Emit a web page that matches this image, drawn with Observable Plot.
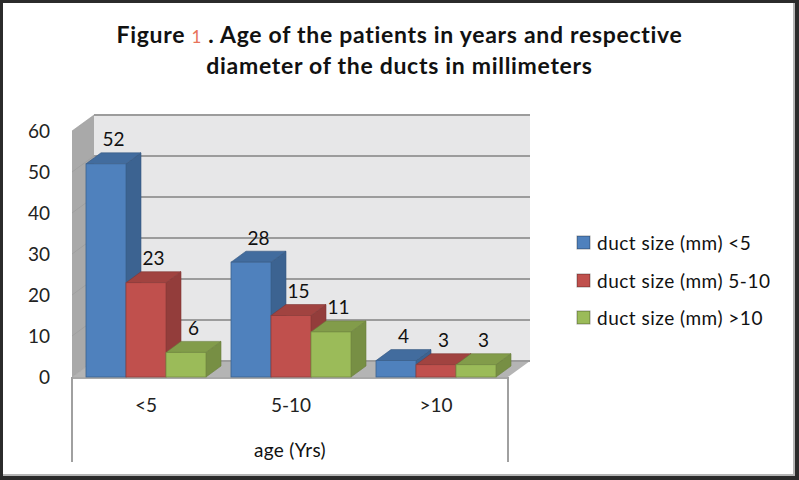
<!DOCTYPE html>
<html>
<head>
<meta charset="utf-8">
<script src="https://cdn.jsdelivr.net/npm/d3@7"></script>
<script src="https://cdn.jsdelivr.net/npm/@observablehq/plot@0.6"></script>
<style>
  html, body { margin: 0; padding: 0; background: #fff; }
  #wrap { position: relative; width: 799px; height: 480px; overflow: hidden; background: #fff; }
  #chart { position: absolute; left: 0; top: 0; }
  #title { position: absolute; left: 0; top: 20px; width: 799px; text-align: center;
           font: bold 23px/29px Lato, "Open Sans", sans-serif; letter-spacing: 0.7px; color: #111; }
  #title .num { color: #E8735A; font-weight: normal; font-size: 17px; }
  #axtitle { position: absolute; left: 190px; top: 439px; width: 200px; text-align: center;
             font: 19px/22px Lato, sans-serif; letter-spacing: 0.3px; color: #111; }
  #legend { position: absolute; left: 577px; top: 224px; width: 220px; }
  .lg-swatches { font-family: Lato, sans-serif !important; font-size: 19px !important; letter-spacing: 0.5px; color: #111 !important; min-height: 0 !important; margin: 0 !important; }
  .lg-swatch { height: 37.5px; padding: 0 !important; display: flex; align-items: center; }
  .lg-swatch svg { margin-right: 7px !important; }
  .lg-swatch svg rect { stroke: rgba(0,0,0,0.35); stroke-width: 1px; }
  #frame { position: absolute; left: 0; top: 0; width: 799px; height: 480px; box-sizing: border-box;
           border: 3px solid #2b2b2b; border-right-width: 4px; border-bottom-width: 4px;
           box-shadow: inset -2px -2px 0 #b5b5b5; pointer-events: none; }
</style>
</head>
<body>
<div id="wrap">
  <div id="chart"></div>
  <div id="title">Figure <span class="num">1</span> . Age of the patients in years and respective<br>diameter of the ducts in millimeters</div>
  <div id="axtitle"></div>
  <div id="legend"></div>
  <div id="frame"></div>
</div>
<script>
// ---- data ----
const categories = ["<5", "5-10", ">10"];
const series = ["duct size (mm) <5", "duct size (mm) 5-10", "duct size (mm) >10"];
const ductLt5 = [52, 28, 4];
const duct5to10 = [23, 15, 3];
const ductGt10 = [6, 11, 3];
const yTicks = [0, 10, 20, 30, 40, 50, 60];
const colors = ["#4F81BD", "#C0504D", "#9BBB59"];
const axisTitle = "age (Yrs)";

const seriesValues = [ductLt5, duct5to10, ductGt10];
const rows = categories.flatMap((c, i) =>
  seriesValues.map((arr, j) => ({age: c, series: series[j], value: arr[i]})));

document.getElementById("axtitle").textContent = axisTitle;

// ---- layout ----
const W = 799, H = 480;
const mL = 72, mR = 291, mT = 131, mB = 103;
const wallD = [22, -16];   // depth of walls
const barD = [15, -11];    // depth of bars

const plot = Plot.plot({
  width: W, height: H,
  marginLeft: mL, marginRight: mR, marginTop: mT, marginBottom: mB,
  style: {fontFamily: "Lato, 'Open Sans', sans-serif", fontSize: "19px", color: "#222", background: "transparent"},
  fx: {domain: categories, paddingInner: 0.168, paddingOuter: 0.084, axis: "bottom", tickSize: 0, tickPadding: 21, label: null},
  x: {domain: series, padding: 0, axis: null},
  y: {domain: [0, 60], ticks: yTicks, tickSize: 0, tickPadding: 22, label: null},
  color: {domain: series, range: colors},
  marks: [
    Plot.barY(rows, {fx: "age", x: "series", y: "value", fill: "series", inset: 0}),
    Plot.text(rows, {fx: "age", x: "series", y: "value", text: d => String(d.value), dy: -24, dx: 7, fontSize: 19, fill: "#111"})
  ]
});
document.getElementById("chart").append(plot);

// ---- 3D chrome drawn from the plot's own scales ----
const yS = plot.scale("y");
const Y0 = yS.apply(0), Ytop = yS.apply(60);
const L = mL, R = W - mR;
const svg = d3.select(plot);
const pts = a => a.map(p => p.join(",")).join(" ");

// push y tick labels left so they end ~22px from the wall
const box = plot.getBoundingClientRect();
svg.selectAll("g[aria-label^='y-axis']").each(function() {
  const texts = this.querySelectorAll("text");
  if (!texts.length) return;
  let maxRight = -Infinity;
  texts.forEach(t => { maxRight = Math.max(maxRight, t.getBoundingClientRect().right - box.left); });
  const shift = (L - 22) - maxRight;
  const prev = this.getAttribute("transform") || "";
  this.setAttribute("transform", `translate(${shift},0) ${prev}`);
});

const walls = svg.insert("g", 'g[aria-label="bar"]');
walls.append("polygon").attr("points", pts([[L + wallD[0], Ytop + wallD[1]], [R + wallD[0], Ytop + wallD[1]], [R + wallD[0], Y0 + wallD[1]], [L + wallD[0], Y0 + wallD[1]]]))
  .attr("fill", "#E7E7E8");
walls.append("polygon").attr("points", pts([[L, Ytop], [L + wallD[0], Ytop + wallD[1]], [L + wallD[0], Y0 + wallD[1]], [L, Y0]]))
  .attr("fill", "#A9A9A9");
walls.append("polygon").attr("points", pts([[L, Y0], [L + wallD[0], Y0 + wallD[1]], [R + wallD[0], Y0 + wallD[1]], [R, Y0]]))
  .attr("fill", "#B4B4B4");
for (const t of yTicks) {
  const yy = yS.apply(t);
  walls.append("line").attr("x1", L + wallD[0]).attr("x2", R + wallD[0]).attr("y1", yy + wallD[1]).attr("y2", yy + wallD[1])
    .attr("stroke", "#9C9C9C").attr("stroke-width", 2);
  walls.append("line").attr("x1", L).attr("x2", L + wallD[0]).attr("y1", yy).attr("y2", yy + wallD[1])
    .attr("stroke", "#999").attr("stroke-opacity", 0.6).attr("stroke-width", 1);
}
walls.append("line").attr("x1", L).attr("x2", R).attr("y1", Y0 + 1).attr("y2", Y0 + 1).attr("stroke", "#A8A8A8").attr("stroke-width", 2);
walls.append("line").attr("x1", L).attr("x2", L).attr("y1", Y0).attr("y2", 462).attr("stroke", "#A0A0A0").attr("stroke-width", 2);
walls.append("line").attr("x1", R).attr("x2", R).attr("y1", Y0).attr("y2", 462).attr("stroke", "#A0A0A0").attr("stroke-width", 2);

const barGroup = plot.querySelector('g[aria-label="bar"]');
const rects = Array.from(barGroup.querySelectorAll("rect")).map(r => {
  const b = r.getBoundingClientRect();
  return {el: r, x0: b.left - box.left, x1: b.right - box.left, yt: b.top - box.top, yb: b.bottom - box.top, fill: r.getAttribute("fill")};
}).sort((a, b) => a.x0 - b.x0);
const faces = svg.insert("g", 'g[aria-label="bar"]');
for (const r of rects) {
  const c = d3.color(r.fill);
  faces.append("polygon").attr("points", pts([[r.x1, r.yt], [r.x1 + barD[0], r.yt + barD[1]], [r.x1 + barD[0], r.yb + barD[1]], [r.x1, r.yb]]))
    .attr("fill", c.darker(0.75)).attr("stroke", c.darker(1.1)).attr("stroke-width", 0.6);
  faces.append("polygon").attr("points", pts([[r.x0, r.yt], [r.x0 + barD[0], r.yt + barD[1]], [r.x1 + barD[0], r.yt + barD[1]], [r.x1, r.yt]]))
    .attr("fill", c.darker(0.5)).attr("stroke", c.darker(1.1)).attr("stroke-width", 0.6);
  r.el.setAttribute("stroke", c.darker(0.8));
  r.el.setAttribute("stroke-width", 0.8);
}

const legend = Plot.legend({color: {domain: series, range: colors}, legend: "swatches", columns: 1, swatchSize: 13, className: "lg"});
document.getElementById("legend").append(legend);
</script>
</body>
</html>
